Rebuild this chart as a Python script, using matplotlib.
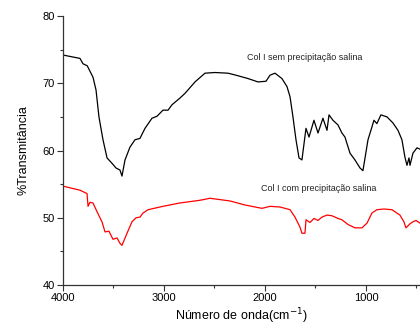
import matplotlib
matplotlib.use("Agg")
import matplotlib.pyplot as plt
from matplotlib.ticker import MultipleLocator

plt.rcParams['font.family'] = ['Liberation Sans', 'DejaVu Sans']

# Black curve: Col I sem precipitação salina
x_sem = [4000, 3900, 3832, 3802, 3760, 3703, 3673, 3644, 3604, 3564, 3515, 3475, 3436, 3416,
         3386, 3337, 3287, 3238, 3188, 3119, 3069, 3010, 2960, 2921, 2842, 2792, 2693, 2594,
         2495, 2366, 2287, 2168, 2069, 1990, 1950, 1901, 1832, 1782, 1752, 1723, 1693, 1663,
         1634, 1594, 1564, 1515, 1475, 1426, 1386, 1366, 1327, 1277, 1238, 1208, 1158, 1109,
         1059, 1030, 980, 941, 921, 892, 852, 792, 733, 683, 644, 614, 594, 574, 564, 535, 495, 465]
y_sem = [74.2, 73.9, 73.7, 72.9, 72.6, 70.9, 69.0, 65.0, 61.6, 58.9, 58.1, 57.4, 57.1, 56.2,
         58.6, 60.5, 61.6, 61.8, 63.3, 64.8, 65.1, 66.0, 66.0, 66.8, 67.8, 68.5, 70.2, 71.5,
         71.6, 71.5, 71.2, 70.7, 70.2, 70.3, 71.2, 71.5, 70.7, 69.5, 68.0, 65.0, 61.6, 58.9,
         58.6, 63.3, 62.0, 64.5, 62.6, 64.8, 63.0, 65.3, 64.5, 63.8, 62.6, 62.0, 59.6, 58.6,
         57.4, 57.0, 61.6, 63.5, 64.5, 64.0, 65.3, 65.0, 64.1, 63.0, 61.6, 59.0, 57.8, 58.9,
         57.8, 59.6, 60.4, 60.2]

# Red curve: Col I com precipitação salina
x_com = [4000, 3832, 3762, 3752, 3733, 3703, 3663, 3614, 3584, 3545, 3505, 3465, 3436, 3416,
         3366, 3317, 3277, 3238, 3208, 3158, 3010, 2842, 2644, 2545, 2347, 2198, 2030, 1950,
         1851, 1752, 1703, 1653, 1634, 1604, 1594, 1554, 1515, 1475, 1436, 1386, 1337, 1277,
         1238, 1178, 1109, 1040, 990, 941, 892, 822, 743, 664, 624, 604, 564, 535, 505, 465]
y_com = [54.7, 54.1, 53.6, 51.7, 52.3, 52.2, 50.9, 49.4, 47.9, 48.0, 46.8, 47.0, 46.2, 45.9,
         47.7, 49.4, 50.0, 50.1, 50.7, 51.2, 51.7, 52.2, 52.6, 52.9, 52.5, 51.9, 51.4, 51.7,
         51.6, 51.2, 50.1, 48.6, 47.7, 47.7, 49.7, 49.3, 49.9, 49.6, 50.1, 50.4, 50.3, 49.9,
         49.7, 49.0, 48.5, 48.5, 49.2, 50.7, 51.2, 51.3, 51.2, 50.4, 49.4, 48.5, 49.1, 49.4,
         49.6, 49.2]

label_sem = "Col I sem precipitação salina"
label_com = "Col I com precipitação salina"

fig = plt.figure(figsize=(4.2, 3.27), dpi=100)
ax = fig.add_axes([0.15, 0.1284, 0.85, 0.8226])
ax.plot(x_sem, y_sem, color='black', lw=0.9)
ax.plot(x_com, y_com, color='#ff0000', lw=0.9)

ax.set_xlim(4000, 465)
ax.set_ylim(40, 80)
ax.xaxis.set_major_locator(MultipleLocator(1000))
ax.xaxis.set_minor_locator(MultipleLocator(500))
ax.yaxis.set_major_locator(MultipleLocator(10))
ax.yaxis.set_minor_locator(MultipleLocator(5))
ax.spines['top'].set_visible(False)
ax.spines['right'].set_visible(False)
for s in ('left', 'bottom'):
    ax.spines[s].set_color('#333333')
    ax.spines[s].set_linewidth(0.9)
ax.tick_params(which='major', length=4, width=0.8, color='#333333', labelsize=8, pad=2)
ax.tick_params(which='minor', length=2.5, width=0.8, color='#333333')

ax.text(1604, 73.9, label_sem, fontsize=6.5, ha='center', va='center', color='#222222')
ax.text(1465, 54.3, label_com, fontsize=6.5, ha='center', va='center', color='#222222')

ax.set_xlabel("Número de onda(cm$^{-1}$)", fontsize=9, labelpad=2)
ax.set_ylabel("%Transmitância", fontsize=9, labelpad=9)

fig.savefig("out.png", dpi=100)
